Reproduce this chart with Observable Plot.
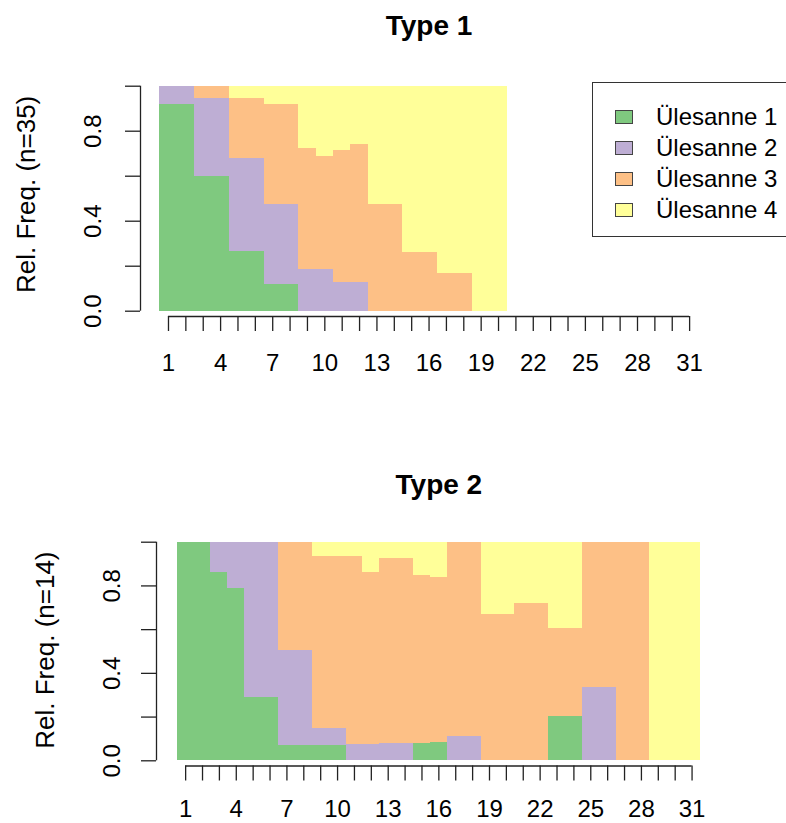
<!DOCTYPE html>
<html><head><meta charset="utf-8">
<script src="https://cdn.jsdelivr.net/npm/d3@7"></script>
<script src="https://cdn.jsdelivr.net/npm/@observablehq/plot@0.6"></script>
<style>
body{margin:0;background:#fff;font-family:"Liberation Sans",Arial,sans-serif;}
#root{position:relative;width:786px;height:823px;overflow:hidden;background:#fff;}
.panel{position:absolute;left:0;}
#legend{position:absolute;left:592px;top:82px;width:210px;height:155px;border:1px solid #333;box-sizing:border-box;padding-top:18px;}
.row{height:31px;display:flex;align-items:center;font-size:24px;color:#000;}
.sw{width:18px;height:14px;margin-left:22px;margin-right:23px;border:1px solid #444;box-sizing:border-box;flex:none;}
</style></head><body><div id="root"></div>
<script>
// ---- data ----
const seriesNames = ["Ülesanne 1", "Ülesanne 2", "Ülesanne 3", "Ülesanne 4"];
const colors = ["#7FC97F", "#BEAED4", "#FDC086", "#FFFF99"];
const xTickLabels = [1,2,3,4,5,6,7,8,9,10,11,12,13,14,15,16,17,18,19,20,21,22,23,24,25,26,27,28,29,30,31];
const xShownLabels = [1,4,7,10,13,16,19,22,25,28,31];
const yTicks = [0, 0.2, 0.4, 0.6, 0.8, 1];
const yTickLabels = ["0.0", "", "0.4", "", "0.8", ""];

const type1Title = "Type 1";
const type1YLabel = "Rel. Freq. (n=35)";
const type1Bars = [1,2,3,4,5,6,7,8,9,10,11,12,13,14,15,16,17,18,19,20];
const type1S1 = [0.917,0.917,0.600,0.600,0.265,0.265,0.117,0.117,0,0,0,0,0,0,0,0,0,0,0,0];
const type1S2 = [0.083,0.083,0.344,0.344,0.412,0.412,0.356,0.356,0.185,0.185,0.129,0.129,0,0,0,0,0,0,0,0];
const type1S3 = [0,0,0.056,0.056,0.267,0.267,0.444,0.444,0.536,0.502,0.585,0.612,0.473,0.473,0.262,0.262,0.169,0.169,0,0];
const type1S4 = [0,0,0,0,0.056,0.056,0.083,0.083,0.279,0.313,0.286,0.259,0.527,0.527,0.738,0.738,0.831,0.831,1,1];

const type2Title = "Type 2";
const type2YLabel = "Rel. Freq. (n=14)";
const type2Bars = [1,2,3,4,5,6,7,8,9,10,11,12,13,14,15,16,17,18,19,20,21,22,23,24,25,26,27,28,29,30,31];
const type2S1 = [1,1,0.860,0.787,0.288,0.288,0.072,0.072,0.072,0.072,0,0,0,0,0.078,0.084,0,0,0,0,0,0,0.203,0.203,0,0,0,0,0,0,0];
const type2S2 = [0,0,0.140,0.213,0.712,0.712,0.433,0.433,0.074,0.074,0.073,0.073,0.079,0.079,0,0,0.111,0.111,0,0,0,0,0,0,0.334,0.334,0,0,0,0,0];
const type2S3 = [0,0,0,0,0,0,0.495,0.495,0.788,0.788,0.861,0.787,0.848,0.848,0.771,0.754,0.889,0.889,0.668,0.668,0.720,0.720,0.402,0.402,0.666,0.666,1,1,0,0,0];
const type2S4 = [0,0,0,0,0,0,0,0,0.066,0.066,0.066,0.140,0.073,0.073,0.151,0.162,0,0,0.332,0.332,0.280,0.280,0.395,0.395,0,0,0,0,1,1,1];

// ---- build ----
function table(bars, seriesVals) {
  const rows = [];
  seriesVals.forEach((vals, s) => {
    bars.forEach((b, i) => rows.push({bar: b, series: seriesNames[s], value: vals[i]}));
  });
  return rows;
}
const yLabelMap = new Map(yTicks.map((t, i) => [t, yTickLabels[i]]));
const shown = new Set(xShownLabels);
const axisColor = "#222";

function panel({bars, vals, title, ylab, height, marginTop, marginBottom, marginLeft, marginRight, pad, insetBottom, titleDy, ylabDx, ylabDy, yTickPad, xTickPad}) {
  const n = xTickLabels.length;
  const dom = [xTickLabels[0] - 0.5 - pad, xTickLabels[n - 1] + 0.5 + pad];
  return Plot.plot({
    width: 786, height, marginTop, marginBottom, marginLeft, marginRight,
    style: {fontFamily: "'Liberation Sans', Arial, sans-serif", fontSize: "24px", color: "#000", background: "transparent", overflow: "visible"},
    x: {type: "linear", domain: dom},
    y: {domain: [0, 1], insetBottom},
    color: {domain: seriesNames, range: colors},
    marks: [
      Plot.rectY(table(bars, vals), {x1: d => d.bar - 0.5, x2: d => d.bar + 0.5, y: "value", fill: "series", shapeRendering: "crispEdges"}),
      Plot.axisY({ticks: yTicks, tickFormat: d => yLabelMap.get(d), tickSize: 15, tickRotate: -90, tickPadding: yTickPad, fontSize: 24, label: null, stroke: axisColor, strokeWidth: 1.3}),
      Plot.ruleX([dom[0]], {y1: 0, y2: 1, stroke: axisColor, strokeWidth: 1.3}),
      Plot.axisX({ticks: xTickLabels, tickFormat: d => shown.has(d) ? String(d) : "", tickSize: 15, tickPadding: xTickPad, fontSize: 24, label: null, stroke: axisColor, strokeWidth: 1.3}),
      Plot.ruleY([0], {x1: xTickLabels[0], x2: xTickLabels[n - 1], dy: insetBottom, stroke: axisColor, strokeWidth: 1.3}),
      Plot.text([ylab], {text: d => d, frameAnchor: "left", textAnchor: "middle", rotate: -90, dx: ylabDx, dy: ylabDy, fontSize: 26, fill: "#000"}),
      Plot.text([title], {text: d => d, frameAnchor: "top", textAnchor: "middle", dy: titleDy, lineAnchor: "bottom", fontSize: 28, fontWeight: "bold", fill: "#000"})
    ]
  });
}

const root = document.getElementById("root");
const p1 = panel({bars: type1Bars, vals: [type1S1, type1S2, type1S3, type1S4], title: type1Title, ylab: type1YLabel,
  height: 400, marginTop: 85.7, marginBottom: 84, marginLeft: 140, marginRight: 68.9, pad: 1.111, insetBottom: 5.3,
  titleDy: -51, ylabDx: -114, ylabDy: -7, yTickPad: 25, xTickPad: 22});
p1.classList.add("panel"); p1.style.top = "0px";
root.appendChild(p1);

const p2 = panel({bars: type2Bars, vals: [type2S1, type2S2, type2S3, type2S4], title: type2Title, ylab: type2YLabel,
  height: 423, marginTop: 141.7, marginBottom: 57.5, marginLeft: 156, marginRight: 65.3, pad: 1.226, insetBottom: 5.2,
  titleDy: -48, ylabDx: -111, ylabDy: -4, yTickPad: 22, xTickPad: 19});
p2.classList.add("panel"); p2.style.top = "400px";
root.appendChild(p2);

const legend = document.createElement("div");
legend.id = "legend";
seriesNames.forEach((name, i) => {
  const row = document.createElement("div");
  row.className = "row";
  const sw = document.createElement("div");
  sw.className = "sw";
  sw.style.background = colors[i];
  row.appendChild(sw);
  const t = document.createElement("span");
  t.textContent = name;
  row.appendChild(t);
  legend.appendChild(row);
});
root.appendChild(legend);
</script></body></html>
